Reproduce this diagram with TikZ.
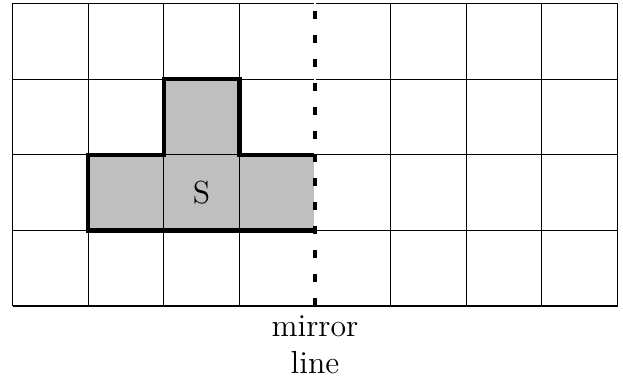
\documentclass[tikz,border=0pt]{standalone}
\usepackage{amsmath, amssymb}
\usepackage{tikz}
\usetikzlibrary{positioning}

\begin{document}
\begin{tikzpicture}[outline/.style={ultra thick, line join=miter}, mirror/.style={ultra thick, dash pattern=on 3pt off 6pt}]
        \useasboundingbox (-0.1653,-1.0446) rectangle (8.0727,4.0463);

        \fill[lightgray] (2,2) rectangle (3,3);
        \fill[lightgray] (1,1) rectangle (4,2);
        \draw[thin] (0,0) grid (8,4);

        \draw[outline] (4,2) -- (3,2) -- (3,3) -- (2,3) -- (2,2) -- (1,2) -- (1,1) -- (4,1);

        \coordinate (B) at (4,0);
        \coordinate (T) at (4,4);
        \draw[white, line width=1pt] (B) -- (T);
        \draw[mirror] (B) -- (T);

        \node[font=\large] (S) at (2.5,1.5) {S};
        \node[font=\large, align=center, anchor=north] (L) at (B) {mirror\\line};

    \end{tikzpicture}
\end{document}
